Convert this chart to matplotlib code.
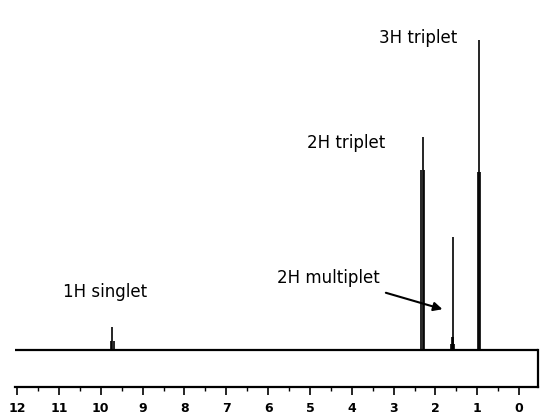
#===============================================================================
import matplotlib
matplotlib.use("Agg")
import matplotlib.pyplot as plt
from matplotlib.ticker import MultipleLocator

#===============================================================================
# peak groups (chemical shift in ppm, line heights in a.u.)
singlet_ppm = [9.755, 9.72, 9.685]
singlet_height = [9, 23, 9]

triplet_2h_ppm = [2.345, 2.31, 2.275]
triplet_2h_height = [180, 213, 180]

multiplet_ppm = [1.63, 1.61, 1.59, 1.57, 1.55]
multiplet_height = [6, 13, 113, 13, 6]

triplet_3h_ppm = [0.995, 0.96, 0.925]
triplet_3h_height = [178, 310, 178]

tick_ppm = list(range(0, 13))
tick_labels = [str(v) for v in tick_ppm]

# label text and where it sits (ppm, height)
labels = [
    ("3H triplet", 3.35, 312, "left"),
    ("2H triplet", 3.20, 207, "right"),
    ("2H multiplet", 5.79, 72, "left"),
    ("1H singlet", 10.90, 58, "left"),
]
arrow_from = (3.25, 58)
arrow_to = (1.77, 40)

#===============================================================================
def main():
    fig = plt.figure(figsize = (5.4, 4.18), dpi = 100)
    ax = fig.add_axes([15 / 540, 1 - 387 / 418, 523 / 540, 387 / 418])
    ax.patch.set_visible(False)

    ax.set_xlim(12.05, -0.45)
    ax.set_ylim(-37, 350)

    # baseline
    ax.axhline(0, color = "k", lw = 1.6)

    groups = [
        (singlet_ppm, singlet_height),
        (triplet_2h_ppm, triplet_2h_height),
        (multiplet_ppm, multiplet_height),
        (triplet_3h_ppm, triplet_3h_height),
    ]
    for ppm, height in groups:
        ax.vlines(ppm, 0, height, color = "k", lw = 1.2)

    for text, x, y, ha in labels:
        ax.text(x, y, text, ha = ha, va = "center", fontsize = 12,
                family = "DejaVu Sans", color = "k")

    ax.annotate("", xy = arrow_to, xytext = arrow_from,
                arrowprops = dict(arrowstyle = "-|>", color = "k", lw = 1.5,
                                  mutation_scale = 13))

    # frame: bottom scale plus the short right edge
    for side in ["top", "left"]:
        ax.spines[side].set_visible(False)
    ax.spines["bottom"].set_linewidth(1.6)
    ax.spines["right"].set_linewidth(1.6)
    ax.spines["right"].set_bounds(-37, 0)

    ax.set_yticks([])
    ax.set_xticks(tick_ppm)
    ax.set_xticklabels(tick_labels)
    ax.xaxis.set_minor_locator(MultipleLocator(0.5))
    ax.tick_params(axis = "x", which = "major", direction = "out", length = 6,
                   width = 1.2, pad = 5, labelsize = 9)
    ax.tick_params(axis = "x", which = "minor", direction = "out", length = 3,
                   width = 1.0)
    for lbl in ax.get_xticklabels():
        lbl.set_fontweight("bold")

    fig.savefig("out.png", dpi = 100)

if __name__ == "__main__":
    main()
